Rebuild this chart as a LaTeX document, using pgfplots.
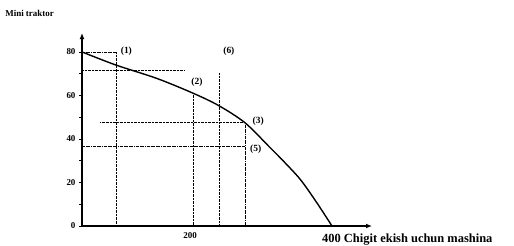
\documentclass[border=0pt]{standalone}
\usepackage{fontspec}
\setmainfont{Liberation Serif}
\usepackage{pgfplots}
\pgfplotsset{compat=1.18}
\usetikzlibrary{arrows.meta}
\begin{document}
\begin{tikzpicture}
\begin{axis}[
  scale only axis, width=290bp, height=193bp,
  xmin=0, xmax=464, ymin=0, ymax=88.7,
  axis lines=left,
  axis line style={line width=1.3pt, -{Latex[length=6bp,width=5bp]}},
  xtick={173}, xticklabels={200},
  ytick={0,20,40,60,80},
  minor y tick num=1,
  tick align=outside,
  x tick style={draw=none},
  y tick style={line width=0.8pt, black},
  major tick length=3bp, minor tick length=3bp,
  tick label style={font=\bfseries\fontsize{9}{10}\selectfont},
  /pgf/number format/assume math mode=true,
  clip=false,
]
\coordinate (O) at (axis cs:0,0);
% frontier
\addplot[line width=1.4pt, smooth, tension=0.5] coordinates {
  (0,80) (54,74) (120,67.8) (178,61) (219,55.3) (261,47.4) (300,36.3) (320,30.5) (349,21.5) (375,11) (400,0)};
% dotted guides
\addplot[densely dash dot, thin] coordinates {(0,80) (54.4,80)};
\addplot[densely dotted, thin] coordinates {(54.4,80) (54.4,0)};
\addplot[densely dotted, thin] coordinates {(0,71.7) (165,71.7)};
\addplot[densely dotted, thin] coordinates {(177.6,61) (177.6,0)};
\addplot[densely dotted, thin] coordinates {(219.2,70.3) (219.2,0)};
\addplot[densely dash dot, thin] coordinates {(260.8,46.4) (260.8,0)};
\addplot[densely dotted, thin] coordinates {(29,47.8) (260.8,47.8)};
\addplot[densely dash dot, thin] coordinates {(0,36.8) (260.8,36.8)};
% labels
\node[font=\bfseries\fontsize{9.5}{10}\selectfont] at (axis cs:71,80.5) {(1)};
\node[font=\bfseries\fontsize{9.5}{10}\selectfont] at (axis cs:235,80.5) {(6)};
\node[font=\bfseries\fontsize{9.5}{10}\selectfont] at (axis cs:184,66.2) {(2)};
\node[font=\bfseries\fontsize{9.5}{10}\selectfont] at (axis cs:282,48) {(3)};
\node[font=\bfseries\fontsize{9.5}{10}\selectfont] at (axis cs:278,35.4) {(5)};
\node[anchor=west, inner sep=0pt, font=\bfseries\fontsize{9}{10}\selectfont] at (axis cs:-123,97.9) {Mini traktor};
\node[anchor=west, inner sep=0pt, font=\bfseries\fontsize{12.5}{13}\selectfont] at (axis cs:384,-6.3) {400 Chigit ekish uchun mashina};
\end{axis}
\pgfresetboundingbox
\path[use as bounding box] ([shift={(-82bp,-20bp)}]O) rectangle ([shift={(432bp,226bp)}]O);
\end{tikzpicture}
\end{document}
